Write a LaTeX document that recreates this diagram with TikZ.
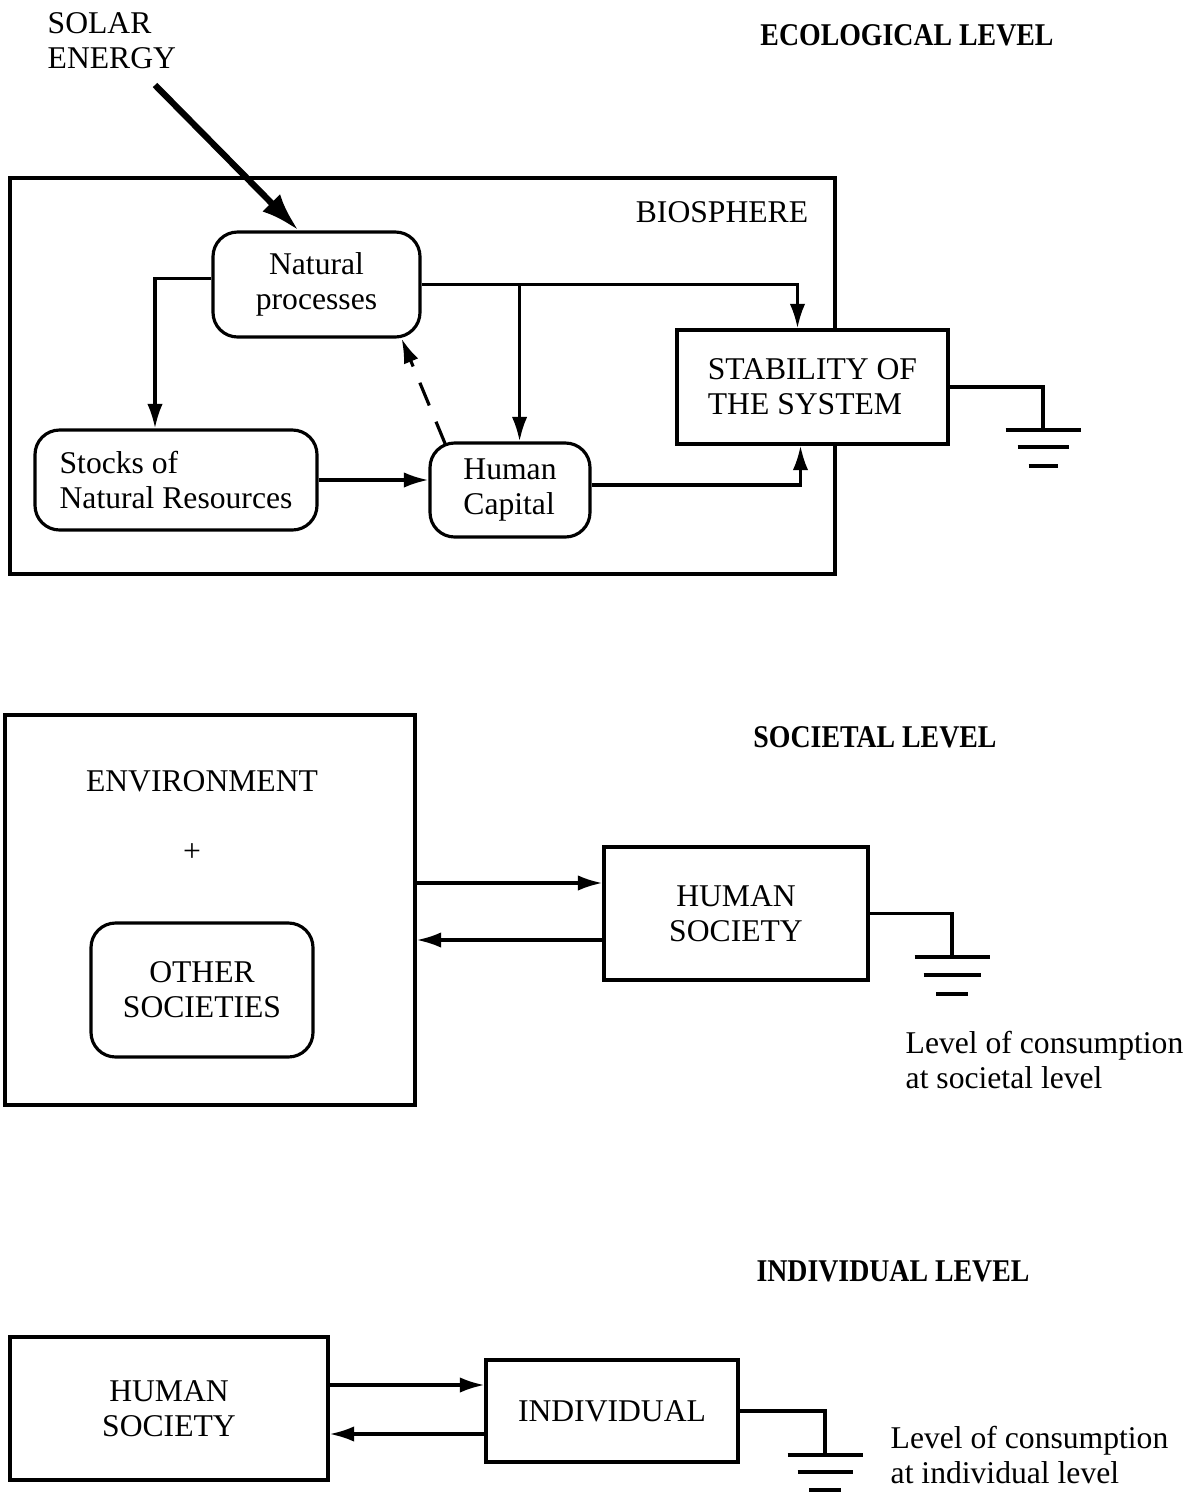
\documentclass[tikz,border=0pt]{standalone}
\usepackage{fontspec}
\setmainfont{Liberation Serif}
\newfontfamily\headfont[FakeStretch=0.88]{Liberation Serif}
\usetikzlibrary{arrows.meta}

\begin{document}
\begin{tikzpicture}[
    lbl/.style={font=\fontsize{9}{10}\selectfont, inner sep=0pt},
    head/.style={font=\headfont\bfseries\fontsize{9}{10}\selectfont, inner sep=0pt},
    box/.style={draw, line width=0.9pt, fill=white, lbl},
    rbox/.style={box, rounded corners=7pt},
    arr/.style={line width=0.9pt, -{Latex[length=7pt,width=4.4pt]}},
    wire/.style={line width=0.9pt},
    gbar/.style={line width=1.3pt},
  ]
    \useasboundingbox (0,0) rectangle (12.02,-14.95);

    % ecological level
    \node[head] (ecohead) at (9.07,-0.35) {ECOLOGICAL LEVEL};
    \node[lbl, align=left, anchor=west] (solar) at (0.47,-0.41) {SOLAR\\ENERGY};
    \coordinate (sun) at (1.55,-0.85);
    \node[draw, line width=0.9pt, minimum width=8.25cm, minimum height=3.96cm] (bio) at (4.225,-3.76) {};
    \node[lbl] (biohead) at (7.22,-2.12) {BIOSPHERE};
    \node[rbox, minimum width=2.07cm, minimum height=1.05cm, align=center] (natproc) at (3.165,-2.845) {Natural\\processes};
    \node[rbox, minimum width=2.82cm, minimum height=1.00cm, align=left] (stocks) at (1.76,-4.80) {Stocks of\\Natural Resources};
    \node[rbox, minimum width=1.60cm, minimum height=0.94cm, align=left] (humcap) at (5.10,-4.90) {Human\\Capital};
    \node[box, minimum width=2.71cm, minimum height=1.14cm, align=left] (stab) at (8.125,-3.87) {STABILITY OF\\THE SYSTEM};
    \coordinate (gnd1) at (10.43,-4.30);
    \coordinate (np2) at ([xshift=0.98cm]natproc.east);

    \draw[line width=1.8pt, -{Latex[length=11pt,width=7pt]}] (sun) -- ([xshift=-1.8mm]natproc.north);
    \draw[arr] ([yshift=0.6mm]natproc.west) -| ([xshift=-2.1mm]stocks.north);
    \draw[arr] (natproc.east) -| ([xshift=-1.5mm]stab.north);
    \draw[arr] (np2) -- (np2 |- humcap.north);
    \draw[arr, dash pattern=on 7pt off 5pt] ([xshift=1.7mm,yshift=-0.3mm]humcap.north west) -- ([xshift=-2mm]natproc.south east);
    \draw[arr] (stocks.east) -- (stocks.east -| humcap.west);
    \draw[arr] ([yshift=0.5mm]humcap.east) -| ([xshift=-1.2mm]stab.south);
    \draw[wire] (stab.east) -| (gnd1);
    \draw[gbar] ([xshift=-3.75mm]gnd1) -- ([xshift=3.75mm]gnd1);
    \draw[gbar] ([xshift=-2.55mm,yshift=-1.7mm]gnd1) -- ([xshift=2.55mm,yshift=-1.7mm]gnd1);
    \draw[gbar] ([xshift=-1.45mm,yshift=-3.6mm]gnd1) -- ([xshift=1.45mm,yshift=-3.6mm]gnd1);

    % societal level
    \node[head] (sochead) at (8.75,-7.37) {SOCIETAL LEVEL};
    \node[box, minimum width=4.10cm, minimum height=3.90cm] (env) at (2.10,-9.10) {};
    \node[lbl] (envtxt) at (2.02,-7.81) {ENVIRONMENT};
    \node[lbl] (plus) at (1.92,-8.53) {+};
    \node[rbox, minimum width=2.22cm, minimum height=1.34cm, align=center] (othsoc) at (2.02,-9.90) {OTHER\\SOCIETIES};
    \node[box, minimum width=2.64cm, minimum height=1.33cm, align=center] (humsoc) at (7.36,-9.135) {HUMAN\\SOCIETY};
    \coordinate (hs1) at ([yshift=3.05mm]humsoc.west);
    \coordinate (hs2) at ([yshift=-2.65mm]humsoc.west);
    \coordinate (gnd2) at (9.52,-9.57);
    \draw[arr] (hs1 -| env.east) -- (hs1);
    \draw[arr] (hs2) -- (hs2 -| env.east);
    \draw[wire] (humsoc.east) -| (gnd2);
    \draw[gbar] ([xshift=-3.75mm]gnd2) -- ([xshift=3.75mm]gnd2);
    \draw[gbar] ([xshift=-2.85mm,yshift=-1.8mm]gnd2) -- ([xshift=2.85mm,yshift=-1.8mm]gnd2);
    \draw[gbar] ([xshift=-1.6mm,yshift=-3.7mm]gnd2) -- ([xshift=1.6mm,yshift=-3.7mm]gnd2);
    \node[lbl, align=left, anchor=west] (soccons) at (9.05,-10.60) {Level of consumption\\at societal level};

    % individual level
    \node[head] (indhead) at (8.93,-12.71) {INDIVIDUAL LEVEL};
    \node[box, minimum width=3.18cm, minimum height=1.43cm, align=center] (humsoc2) at (1.69,-14.085) {HUMAN\\SOCIETY};
    \node[box, minimum width=2.52cm, minimum height=1.02cm] (indiv) at (6.12,-14.11) {INDIVIDUAL};
    \coordinate (iv1) at ([yshift=2.6mm]indiv.west);
    \coordinate (iv2) at ([yshift=-2.3mm]indiv.west);
    \coordinate (gnd3) at (8.25,-14.55);
    \draw[arr] (iv1 -| humsoc2.east) -- (iv1);
    \draw[arr] (iv2) -- (iv2 -| humsoc2.east);
    \draw[wire] (indiv.east) -| (gnd3);
    \draw[gbar] ([xshift=-3.75mm]gnd3) -- ([xshift=3.75mm]gnd3);
    \draw[gbar] ([xshift=-2.75mm,yshift=-1.7mm]gnd3) -- ([xshift=2.75mm,yshift=-1.7mm]gnd3);
    \draw[gbar] ([xshift=-1.6mm,yshift=-3.5mm]gnd3) -- ([xshift=1.6mm,yshift=-3.5mm]gnd3);
    \node[lbl, align=left, anchor=west] (indcons) at (8.90,-14.55) {Level of consumption\\at individual level};
\end{tikzpicture}
\end{document}
